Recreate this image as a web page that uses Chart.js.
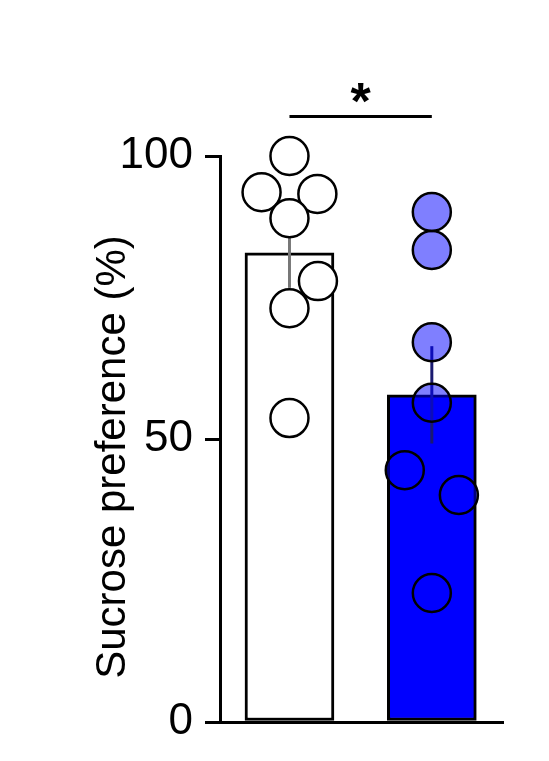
<!DOCTYPE html>
<html><head><meta charset="utf-8">
<script src="https://cdn.jsdelivr.net/npm/chart.js@4/dist/chart.umd.min.js"></script>
<style>body{margin:0;background:#fff}</style></head>
<body><canvas id="c" width="549" height="761" style="width:549px;height:761px"></canvas>
<script>
const groups = [1, 2];
const means = [82.9, 57.8];
const sems = [6.2, 8.6];
const barColors = ['#ffffff', '#0000ff'];
const errColors = ['#777777', '#1a1a70'];
const ctrlPoints = [100, 93.6, 93.3, 89, 77.9, 73.1, 53.7];
const ctrlJitter = [0, -0.196, 0.196, 0, 0.2, 0, 0];
const expPoints = [90.1, 83.4, 67.1, 56.4, 44.5, 40.1, 22.8];
const expJitter = [0, 0, 0, 0, -0.19, 0.19, 0];
const yTicks = [0, 50, 100];
const yTitle = 'Sucrose preference (%)';
const sigLabel = '*';

const FONT = '"Liberation Sans Narrow","Liberation Sans",Arial,sans-serif';

const overlay = {
  id: 'overlay',
  afterDatasetDraw(chart, args) {
    if (args.index !== 0) return;
    const {ctx, scales: {x, y}} = chart;
    ctx.save();
    ctx.lineWidth = 3;
    groups.forEach((g, i) => {
      ctx.strokeStyle = errColors[i];
      ctx.beginPath();
      ctx.moveTo(x.getPixelForValue(g), y.getPixelForValue(means[i] + sems[i]));
      ctx.lineTo(x.getPixelForValue(g), y.getPixelForValue(means[i] - sems[i]));
      ctx.stroke();
    });
    ctx.restore();
  },
  afterDraw(chart) {
    const {ctx, scales: {x, y}} = chart;
    ctx.save();
    ctx.strokeStyle = '#000'; ctx.lineWidth = 3;
    const sy = y.getPixelForValue(107);
    ctx.beginPath();
    ctx.moveTo(x.getPixelForValue(groups[0]), sy);
    ctx.lineTo(x.getPixelForValue(groups[1]), sy);
    ctx.stroke();
    ctx.fillStyle = '#000';
    ctx.font = 'bold 52px ' + FONT;
    ctx.textAlign = 'center'; ctx.textBaseline = 'middle';
    ctx.fillText(sigLabel, (x.getPixelForValue(groups[0]) + x.getPixelForValue(groups[1])) / 2, sy - 12);
    ctx.translate(113, 457);
    ctx.rotate(-Math.PI / 2);
    ctx.font = '42px ' + FONT;
    ctx.fillText(yTitle, 0, 0);
    ctx.restore();
  }
};

new Chart(document.getElementById('c'), {
  data: {
    datasets: [
      { type: 'bar', order: 2, data: groups.map((g, i) => ({x: g, y: means[i]})),
        backgroundColor: barColors, borderColor: '#000', borderWidth: 3, borderSkipped: false,
        barThickness: 89 },
      { type: 'scatter', order: 1, clip: false,
        data: ctrlPoints.map((v, i) => ({x: groups[0] + ctrlJitter[i], y: v})),
        backgroundColor: 'rgba(255,255,255,1)', borderColor: '#000', borderWidth: 2.5, pointRadius: 19 },
      { type: 'scatter', order: 0, clip: false,
        data: expPoints.map((v, i) => ({x: groups[1] + expJitter[i], y: v})),
        backgroundColor: 'rgba(0,0,255,0.5)', borderColor: '#000', borderWidth: 2.5, pointRadius: 19 }
    ]
  },
  options: {
    responsive: false, animation: false,
    layout: { padding: { top: 156, right: 46, bottom: 39, left: 0 } },
    plugins: { legend: { display: false }, tooltip: { enabled: false } },
    scales: {
      x: { type: 'linear', min: 0.512, max: 2.5, offset: false,
        ticks: { display: false }, grid: { display: false },
        border: { display: true, color: '#000', width: 3 },
        afterFit(s) { s.height = 0; } },
      y: { min: 0, max: 100,
        afterBuildTicks(s) { s.ticks = yTicks.map(v => ({value: v})); },
        ticks: { color: '#000', font: { size: 44, family: FONT }, padding: 12 },
        grid: { drawOnChartArea: false, drawTicks: true, tickLength: 15, color: '#000', lineWidth: 3 },
        border: { display: true, color: '#000', width: 3 },
        afterFit(s) { s.width = 220; } }
    }
  },
  plugins: [overlay]
});
</script></body></html>
